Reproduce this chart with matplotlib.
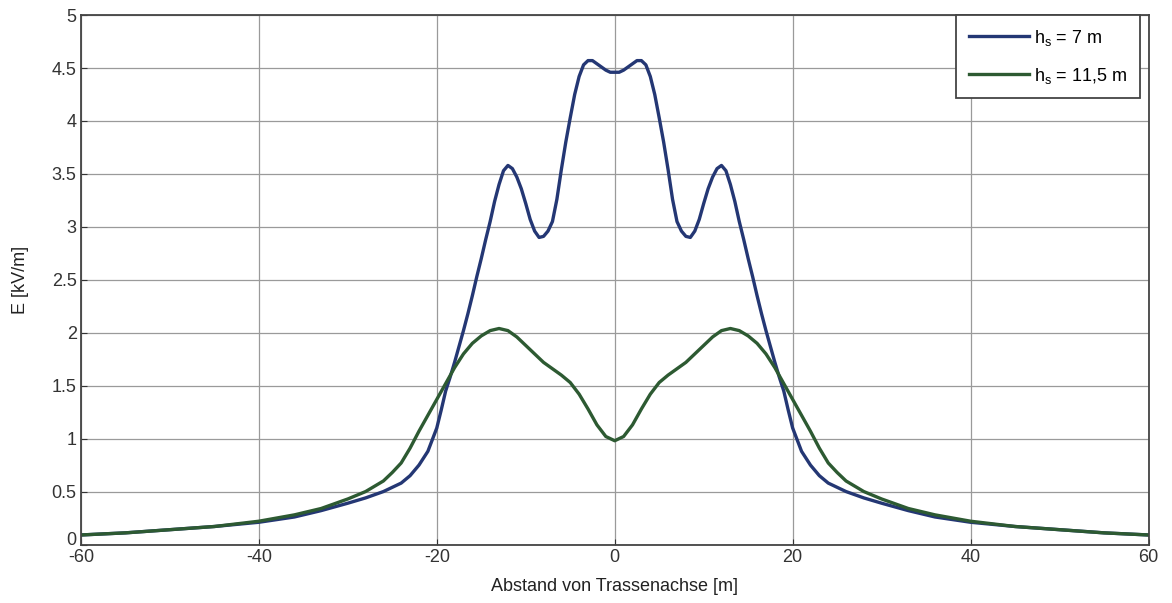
import matplotlib
matplotlib.use("Agg")
import matplotlib.pyplot as plt
from matplotlib.transforms import ScaledTranslation

plt.rcParams["font.family"] = ["Liberation Sans", "DejaVu Sans"]
plt.rcParams["axes.unicode_minus"] = False

# distance from line axis [m], h_s = 7 m
x_7 = [-60, -55, -50, -45, -40, -36, -33, -30, -28, -26, -24, -23, -22, -21, -20,
       -19.5, -19, -18.5, -18, -17.5, -17, -16.5, -16, -15.5, -15, -14.5, -14, -13.5, -13,
       -12.5, -12, -11.5, -11, -10.5, -10, -9.5, -9, -8.5, -8, -7.5, -7, -6.5, -6, -5.5,
       -5, -4.5, -4, -3.5, -3, -2.5, -2, -1.5, -1, -0.5, 0,
       0.5, 1, 1.5, 2, 2.5, 3, 3.5, 4, 4.5, 5,
       5.5, 6, 6.5, 7, 7.5, 8, 8.5, 9, 9.5, 10, 10.5, 11, 11.5, 12, 12.5,
       13, 13.5, 14, 14.5, 15, 15.5, 16, 16.5, 17, 17.5, 18, 18.5, 19, 19.5,
       20, 21, 22, 23, 24, 26, 28, 30, 33, 36, 40, 45, 50, 55, 60]
# E field [kV/m]
e_7 = [0.09, 0.11, 0.14, 0.17, 0.21, 0.26, 0.32, 0.39, 0.44, 0.50, 0.58, 0.65, 0.75, 0.88, 1.10,
       1.27, 1.45, 1.58, 1.72, 1.87, 2.02, 2.18, 2.35, 2.53, 2.70, 2.88, 3.05, 3.24, 3.40,
       3.53, 3.58, 3.55, 3.47, 3.36, 3.22, 3.07, 2.96, 2.90, 2.91, 2.96, 3.05, 3.26, 3.54, 3.80,
       4.03, 4.25, 4.42, 4.53, 4.57, 4.57, 4.54, 4.51, 4.48, 4.46, 4.46,
       4.46, 4.48, 4.51, 4.54, 4.57, 4.57, 4.53, 4.42, 4.25, 4.03,
       3.80, 3.54, 3.26, 3.05, 2.96, 2.91, 2.90, 2.96, 3.07, 3.22, 3.36, 3.47, 3.55, 3.58, 3.53,
       3.40, 3.24, 3.05, 2.88, 2.70, 2.53, 2.35, 2.18, 2.02, 1.87, 1.72, 1.58, 1.45, 1.27,
       1.10, 0.88, 0.75, 0.65, 0.58, 0.50, 0.44, 0.39, 0.32, 0.26, 0.21, 0.17, 0.14, 0.11, 0.09]

# distance from line axis [m], h_s = 11.5 m
x_115 = [-60, -55, -50, -45, -40, -36, -33, -30, -28, -26, -25, -24, -23, -22, -21, -20,
         -19, -18, -17, -16, -15, -14, -13, -12, -11, -10, -9, -8, -7, -6, -5,
         -4, -3, -2, -1, 0, 1, 2, 3, 4,
         5, 6, 7, 8, 9, 10, 11, 12, 13, 14, 15, 16, 17, 18, 19,
         20, 21, 22, 23, 24, 25, 26, 28, 30, 33, 36, 40, 45, 50, 55, 60]
# E field [kV/m]
e_115 = [0.09, 0.11, 0.14, 0.17, 0.22, 0.28, 0.34, 0.43, 0.50, 0.60, 0.68, 0.77, 0.91, 1.07, 1.22, 1.37,
         1.52, 1.67, 1.80, 1.90, 1.97, 2.02, 2.04, 2.02, 1.96, 1.88, 1.80, 1.72, 1.66, 1.60, 1.53,
         1.42, 1.28, 1.13, 1.02, 0.98, 1.02, 1.13, 1.28, 1.42,
         1.53, 1.60, 1.66, 1.72, 1.80, 1.88, 1.96, 2.02, 2.04, 2.02, 1.97, 1.90, 1.80, 1.67, 1.52,
         1.37, 1.22, 1.07, 0.91, 0.77, 0.68, 0.60, 0.50, 0.43, 0.34, 0.28, 0.22, 0.17, 0.14, 0.11, 0.09]

x_ticks = [-60, -40, -20, 0, 20, 40, 60]
y_ticks = [0, 0.5, 1, 1.5, 2, 2.5, 3, 3.5, 4, 4.5, 5]
y_labels = ["0", "0.5", "1", "1.5", "2", "2.5", "3", "3.5", "4", "4.5", "5"]

fig = plt.figure(figsize=(11.72, 6.03), dpi=100)
ax = fig.add_axes([0.069, 0.097, 0.911, 0.878])

ax.plot(x_7, e_7, color="#243774", lw=2.4, label=r"h$_\mathregular{s}$ = 7 m")
ax.plot(x_115, e_115, color="#2d5a32", lw=2.4, label=r"h$_\mathregular{s}$ = 11,5 m")

ax.set_xlim(-60, 60)
ax.set_ylim(0, 5)
ax.set_xticks(x_ticks)
ax.set_yticks(y_ticks)
ax.set_yticklabels(y_labels)
ax.grid(True, color="#9a9a9a", lw=0.9)
ax.tick_params(direction="in", length=4, labelsize=13, pad=3, colors="#333333")
for s in ax.spines.values():
    s.set_color("#444444")
    s.set_linewidth(1.3)

# lift the "0" a little so it does not sit on "-60"
ax.get_yticklabels()[0].set_transform(
    ax.get_yticklabels()[0].get_transform() + ScaledTranslation(0, 4 / 72, fig.dpi_scale_trans))

ax.set_xlabel("Abstand von Trassenachse [m]", fontsize=13, labelpad=9, color="#222222")
ax.set_ylabel("E [kV/m]", fontsize=13, labelpad=16, color="#222222")

leg = ax.legend(loc="upper right", bbox_to_anchor=(0.992, 1.0), fontsize=13,
                handlelength=3.3, handletextpad=0.3, borderaxespad=0.0, fancybox=False,
                framealpha=1, edgecolor="#444444", borderpad=0.7, labelspacing=1.0)
leg.get_frame().set_linewidth(1.3)

fig.savefig("out.png", dpi=100, facecolor="white")
